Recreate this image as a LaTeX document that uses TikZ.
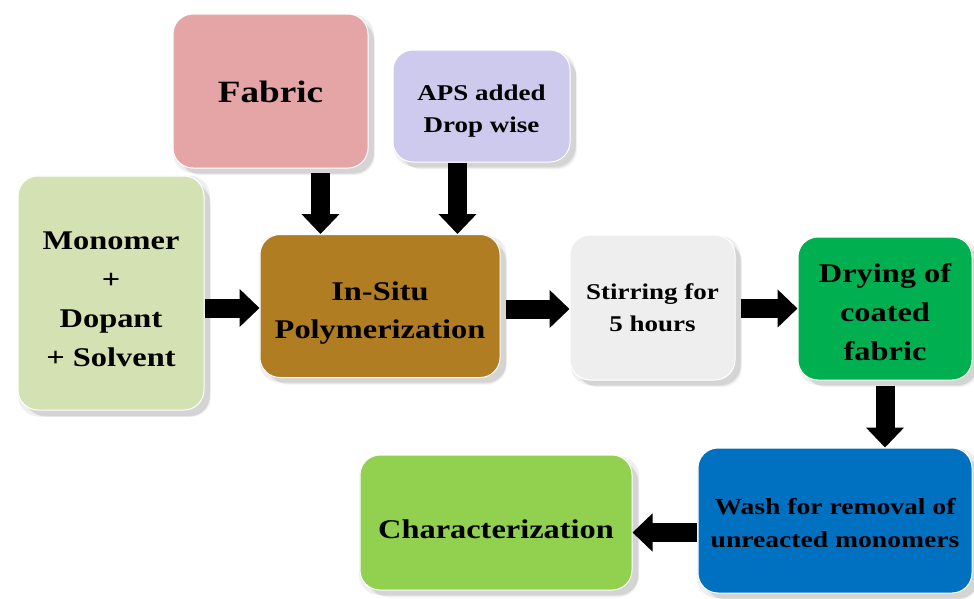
\documentclass[tikz,border=0pt]{standalone}
\usepackage{fontspec}
\setmainfont{Liberation Serif}[FakeStretch=1.2]
\usetikzlibrary{arrows.meta,shadows}
\definecolor{cfab}{HTML}{E5A5A7}
\definecolor{caps}{HTML}{CDCAEE}
\definecolor{cmon}{HTML}{D4E1B2}
\definecolor{cins}{HTML}{B17D22}
\definecolor{cstir}{HTML}{EEEEEE}
\definecolor{cdry}{HTML}{00B050}
\definecolor{cwash}{HTML}{0070C0}
\definecolor{cchr}{HTML}{92D050}
\newcommand\boxtext[2][6pt]{\raisebox{-#1}[\height][\depth]{\begin{tabular}{@{}c@{}}#2\end{tabular}}}
\tikzset{
  box/.style={rounded corners=20pt, inner sep=0pt, font=\bfseries,
    draw=white, line width=1pt,
    drop shadow={shadow xshift=3pt, shadow yshift=-3pt, opacity=0.10, fill=black!60, shadow scale=1.03},
    drop shadow={shadow xshift=6pt, shadow yshift=-6pt, opacity=0.12, fill=black!60},
    drop shadow={shadow xshift=8pt, shadow yshift=-8pt, opacity=0.08, fill=black!60, shadow scale=0.99}},
  blockarrow/.style={line width=19pt, black, -{Triangle[length=20pt,width=37pt]}},
}
\begin{document}
\begin{tikzpicture}[x=1pt,y=-1pt]
\useasboundingbox[fill=white] (0,0) rectangle (974,598);
\node[box, fill=cfab, minimum width=195pt, minimum height=154pt,
  font=\bfseries\fontsize{31}{42}\selectfont] (fab) at (270.5,91) {\boxtext[3pt]{Fabric}};
\node[box, fill=caps, minimum width=177pt, minimum height=112pt,
  font=\bfseries\fontsize{22.5}{32}\selectfont] (aps) at (481.5,106) {\boxtext[4pt]{APS added\\Drop wise}};
\node[box, fill=cmon, minimum width=186pt, minimum height=234pt,
  font=\bfseries\fontsize{27}{39}\selectfont] (mon) at (111,293) {\boxtext[7pt]{Monomer\\+\\Dopant\\+ Solvent}};
\node[box, fill=cins, minimum width=240pt, minimum height=143pt,
  font=\bfseries\fontsize{27}{38}\selectfont] (ins) at (380,306) {\boxtext[6pt]{In-Situ\\Polymerization}};
\node[box, fill=cstir, minimum width=165pt, minimum height=145pt,
  font=\bfseries\fontsize{22.5}{32}\selectfont] (stir) at (652.5,307.5) {\boxtext[1.5pt]{Stirring for\\5 hours}};
\node[box, fill=cdry, minimum width=174pt, minimum height=143pt,
  font=\bfseries\fontsize{27}{39}\selectfont] (dry) at (885,308.5) {\boxtext[5pt]{Drying of\\coated\\fabric}};
\node[box, fill=cwash, minimum width=274pt, minimum height=145pt,
  font=\bfseries\fontsize{23}{33}\selectfont] (wash) at (835,520.5) {\boxtext[4pt]{Wash for removal of\\unreacted monomers}};
\node[box, fill=cchr, minimum width=272pt, minimum height=135pt,
  font=\bfseries\fontsize{27}{38}\selectfont] (chr) at (496,522.5) {\boxtext[8pt]{Characterization}};
% connectors
\draw[blockarrow, shorten <=4pt] ([xshift=50pt]fab.south) -- ([xshift=50pt]fab.south |- ins.north);
\draw[blockarrow] ([xshift=-24pt]aps.south) -- ([xshift=-24pt]aps.south |- ins.north);
\draw[blockarrow] ([yshift=-2pt]ins.west -| mon.east) -- ([yshift=-2pt]ins.west);
\draw[blockarrow, shorten <=5pt] ([yshift=-3pt]ins.east) -- ([yshift=-3pt]ins.east -| stir.west);
\draw[blockarrow, shorten <=5pt] ([yshift=-1pt]stir.east) -- ([yshift=-1pt]stir.east -| dry.west);
\draw[blockarrow, shorten <=5pt] (dry.south) -- (dry.south |- wash.north);
\draw[blockarrow, shorten <=1pt] ([yshift=-12pt]wash.west) -- ([yshift=-12pt]wash.west -| chr.east);
\end{tikzpicture}
\end{document}
